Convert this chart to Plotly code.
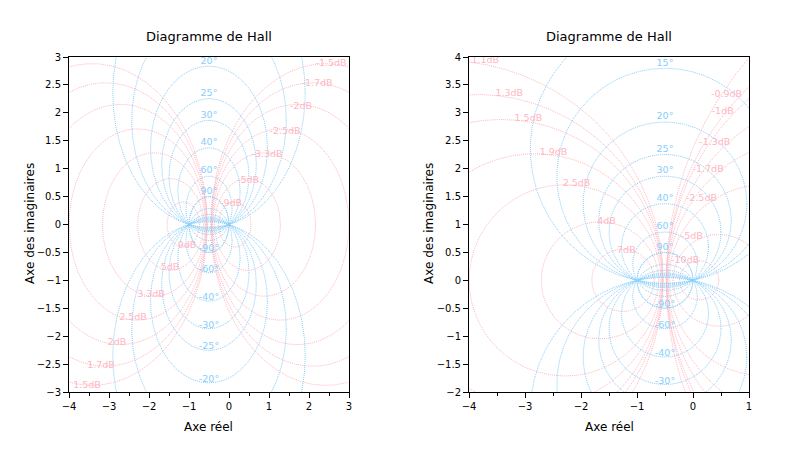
import numpy as np
import plotly.graph_objects as go

# cercles iso-modules (dB) et iso-phases (degres) de chaque diagramme
modules_gauche = [-9, -5, -3.3, -2.5, -2, -1.7, -1.5, 1.5, 1.7, 2, 2.5, 3.3, 5, 9]
modules_droite = [-10, -5, -2.5, -1.7, -1.3, -1, -0.9, -0.71, 1.1, 1.3, 1.5, 1.9, 2.5, 4, 7]
phases = [-90, -60, -40, -30, -25, -20, -15, -12, 12, 15, 20, 25, 30, 40, 60, 90]

bornes_gauche = ([-4, 3], [-3, 3])
bornes_droite = ([-4, 1], [-2, 4])

# position des etiquettes de modules (mise en page)
pos_gauche = {-9: (0.05, 0.37), -5: (0.475, 0.78), -3.3: (0.95, 1.26), -2.5: (1.4, 1.67),
              -2: (1.8, 2.12), -1.7: (2.2, 2.53), -1.5: (2.55, 2.89)}
for k, (a, b) in list(pos_gauche.items()):
    pos_gauche[-k] = (-1 - a, -b)
pos_droite = {-10: (-0.14, 0.36), -5: (-0.02, 0.78), -2.5: (0.15, 1.46), -1.7: (0.27, 1.98),
              -1.3: (0.39, 2.46), -1: (0.53, 3.03), -0.9: (0.6, 3.32), -0.71: (0.75, 4.03),
              1.1: (-3.71, 3.93), 1.3: (-3.28, 3.34), 1.5: (-2.94, 2.89), 1.9: (-2.49, 2.28),
              2.5: (-2.08, 1.725), 4: (-1.545, 1.045), 7: (-1.19, 0.525)}

ROSE = "#ffb6c1"
BLEU = "#87cefa"
t = np.linspace(0, 2 * np.pi, 720)
W, H, DEC = 800, 450, 8  # la page ajoute une marge de 8 px


def px(x):
    return (x - DEC) / W


def py(y):
    return 1 - (y - DEC) / H


def cercle(xc, yc, r):
    return list(xc + r * np.cos(t)) + [None], list(yc + r * np.sin(t)) + [None]


def hall(fig, modules, pos, bornes, xa, ya):
    xs, ys = [], []
    for d in modules:
        M = 10 ** (d / 20)
        a, b = cercle(-M**2 / (M**2 - 1), 0, abs(M / (M**2 - 1)))
        xs += a
        ys += b
    fig.add_trace(go.Scatter(x=xs, y=ys, mode="lines", xaxis=xa, yaxis=ya,
                             line=dict(color=ROSE, width=1, dash="1px,1px"), hoverinfo="skip"))
    xs, ys, tx, ty, tt = [], [], [], [], []
    for p in phases:
        phi = np.radians(p)
        yc = 1 / (2 * np.tan(phi))
        r = 1 / (2 * abs(np.sin(phi)))
        a, b = cercle(-0.5, yc, r)
        xs += a
        ys += b
        ext = yc + r + 0.09 if p > 0 else yc - r + 0.06
        if bornes[1][0] < ext < bornes[1][1]:
            tx.append(-0.5)
            ty.append(ext)
            tt.append(f"{p}°")
    fig.add_trace(go.Scatter(x=xs, y=ys, mode="lines", xaxis=xa, yaxis=ya,
                             line=dict(color=BLEU, width=1, dash="1px,1px"), hoverinfo="skip"))
    fig.add_trace(go.Scatter(x=[pos[d][0] for d in modules], y=[pos[d][1] for d in modules],
                             text=[f"{d:g}dB" for d in modules], mode="text", xaxis=xa, yaxis=ya,
                             textfont=dict(color=ROSE, size=9.5), cliponaxis=False, hoverinfo="skip"))
    fig.add_trace(go.Scatter(x=tx, y=ty, text=tt, mode="text", xaxis=xa, yaxis=ya,
                             textfont=dict(color=BLEU, size=9.5), hoverinfo="skip"))


fig = go.Figure()
hall(fig, modules_gauche, pos_gauche, bornes_gauche, "x", "y")
hall(fig, modules_droite, pos_droite, bornes_droite, "x2", "y2")

axe = dict(showgrid=False, zeroline=False, showline=True, mirror=True, linecolor="black",
           linewidth=1, ticks="outside", ticklen=5, tickcolor="black", automargin=False,
           tickfont=dict(size=10, color="black"))
dom_y = [py(392), py(57)]
fig.update_layout(
    width=W, height=H, showlegend=False,
    margin=dict(l=0, r=0, t=0, b=0),
    plot_bgcolor="white", paper_bgcolor="white",
    font=dict(family="DejaVu Sans", color="black"),
    xaxis=dict(axe, domain=[px(69), px(349)], range=bornes_gauche[0], dtick=1,
               minor=dict(dtick=0.5, ticks="outside", ticklen=3, tickcolor="black")),
    yaxis=dict(axe, domain=dom_y, range=bornes_gauche[1], dtick=0.5),
    xaxis2=dict(axe, domain=[px(469), px(749)], range=bornes_droite[0], dtick=1,
                anchor="y2",
                minor=dict(dtick=0.5, ticks="outside", ticklen=3, tickcolor="black")),
    yaxis2=dict(axe, domain=dom_y, range=bornes_droite[1], dtick=0.5, anchor="x2"),
)

for xc in (209, 609):
    fig.add_annotation(x=px(xc), y=py(37), xref="paper", yref="paper",
                       xanchor="center", yanchor="middle",
                       text="Diagramme de Hall", showarrow=False, font=dict(size=13))
    fig.add_annotation(x=px(xc), y=py(427), xref="paper", yref="paper",
                       xanchor="center", yanchor="middle",
                       text="Axe réel", showarrow=False, font=dict(size=12))
for xc in (30, 429):
    fig.add_annotation(x=px(xc), y=py(224), xref="paper", yref="paper",
                       xanchor="center", yanchor="middle",
                       text="Axe des imaginaires", showarrow=False, textangle=-90,
                       font=dict(size=12))

fig.write_html("out.html")
